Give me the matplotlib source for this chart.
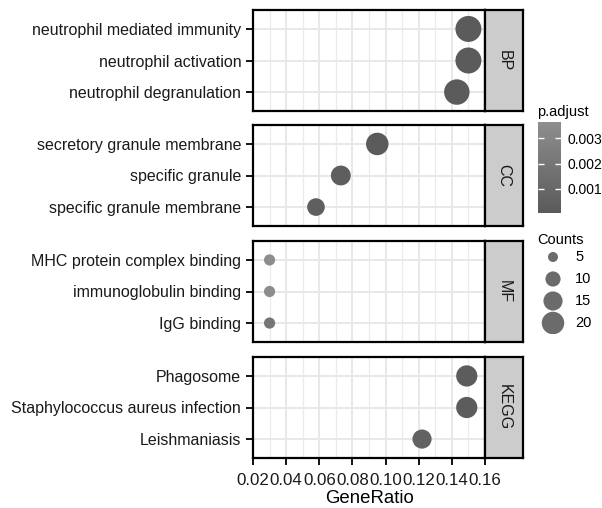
import numpy as np
import matplotlib.pyplot as plt
from matplotlib.colors import LinearSegmentedColormap, Normalize
from matplotlib.cm import ScalarMappable

plt.rcParams['font.family'] = ['Liberation Sans', 'DejaVu Sans']

# data, top to bottom inside each facet
facets = ['BP', 'CC', 'MF', 'KEGG']
terms = [
    ['neutrophil mediated immunity', 'neutrophil activation', 'neutrophil degranulation'],
    ['secretory granule membrane', 'specific granule', 'specific granule membrane'],
    ['MHC protein complex binding', 'immunoglobulin binding', 'IgG binding'],
    ['Phagosome', 'Staphylococcus aureus infection', 'Leishmaniasis'],
]
gene_ratio = [
    [0.150, 0.150, 0.143],
    [0.095, 0.073, 0.058],
    [0.030, 0.030, 0.030],
    [0.149, 0.149, 0.122],
]
counts = [
    [26, 26, 25],
    [20, 16, 13],
    [6, 6, 6],
    [18, 18, 15],
]
p_adjust = [
    [0.00010, 0.00010, 0.00012],
    [0.00015, 0.00030, 0.00040],
    [0.00355, 0.00355, 0.00200],
    [0.00020, 0.00020, 0.00060],
]
count_breaks = [5, 10, 15, 20]
padj_ticks = [0.001, 0.002, 0.003]

cmap = LinearSegmentedColormap.from_list('grey_padj', ['#5a5a5a', '#8e8e8e'])
norm = Normalize(vmin=0.00004, vmax=0.00365)


def size_of(c):
    # marker diameter in px grows with sqrt(count)
    d = 5.59 * np.sqrt(np.asarray(c, float)) - 2.5
    return (d * 0.72) ** 2


W, H = 602, 508
fig = plt.figure(figsize=(W / 100, H / 100), dpi=100)

panel_top = [10, 125, 241, 357]
panel_h = 101
x0, x1, sx1 = 253, 485, 523

for i, facet in enumerate(facets):
    bottom = (H - panel_top[i] - panel_h) / H
    ax = fig.add_axes([x0 / W, bottom, (x1 - x0) / W, panel_h / H])
    ys = [3, 2, 1]
    ax.scatter(gene_ratio[i], ys, s=size_of(counts[i]), c=p_adjust[i],
               cmap=cmap, norm=norm, linewidths=0, zorder=3)
    ax.set_xlim(0.02, 0.16)
    ax.set_ylim(0.4, 3.6)
    ax.set_xticks(np.arange(0.02, 0.1601, 0.02))
    ax.set_xticks(np.arange(0.03, 0.16, 0.02), minor=True)
    ax.set_yticks(ys)
    ax.set_yticklabels(terms[i], fontsize=11.5, color='#1a1a1a')
    ax.grid(True, which='major', color='#e8e8e8', lw=1.4, zorder=0)
    ax.grid(True, which='minor', axis='x', color='#ebebeb', lw=0.9, zorder=0)
    ax.tick_params(axis='y', length=5, width=1.3, pad=3.5)
    ax.tick_params(axis='x', which='minor', length=0)
    if i == len(facets) - 1:
        ax.set_xticklabels(['%.2f' % v for v in ax.get_xticks()], fontsize=12.2,
                           color='#1a1a1a')
        ax.tick_params(axis='x', which='major', length=5, width=1.3, pad=6)
        ax.set_xlabel('GeneRatio', fontsize=13.4, labelpad=1)
    else:
        ax.tick_params(axis='x', which='major', length=0, labelbottom=False)
    for sp in ax.spines.values():
        sp.set_linewidth(1.6)
    ax.set_axisbelow(True)

    sax = fig.add_axes([x1 / W, bottom, (sx1 - x1) / W, panel_h / H])
    sax.set_facecolor('#cccccc')
    sax.set_xticks([])
    sax.set_yticks([])
    for sp in sax.spines.values():
        sp.set_linewidth(1.6)
    sax.text(0.5, 0.5, facet, rotation=270, ha='center', va='center',
             fontsize=11.5, color='#1a1a1a', transform=sax.transAxes)

# p.adjust colour bar
fig.text(537 / W, 1 - 112 / H, 'p.adjust', fontsize=10.5, va='center', ha='left')
cax = fig.add_axes([538 / W, (H - 213) / H, 23 / W, 91 / H])
cb = fig.colorbar(ScalarMappable(norm=norm, cmap=cmap), cax=cax, ticks=padj_ticks)
cb.outline.set_visible(False)
cb.ax.set_yticklabels(['%.3f' % t for t in padj_ticks])
cb.ax.tick_params(direction='in', length=4, width=1, color='white', labelsize=10,
                  left=True, right=True, pad=5)

# Counts size legend
fig.text(537 / W, 1 - 240 / H, 'Counts', fontsize=10.5, va='center', ha='left')
lax = fig.add_axes([537 / W, (H - 334) / H, 60 / W, 88 / H])
lax.set_xlim(0, 60)
lax.set_ylim(len(count_breaks) + 0.5, 0.5)
lax.axis('off')
ly = np.arange(1, len(count_breaks) + 1)
lax.scatter([16] * len(count_breaks), ly, s=size_of(count_breaks), c='#6b6b6b',
            linewidths=0)
for y, c in zip(ly, count_breaks):
    lax.text(38, y, str(c), va='center', ha='left', fontsize=10.5)

fig.savefig('out.png', dpi=100)
